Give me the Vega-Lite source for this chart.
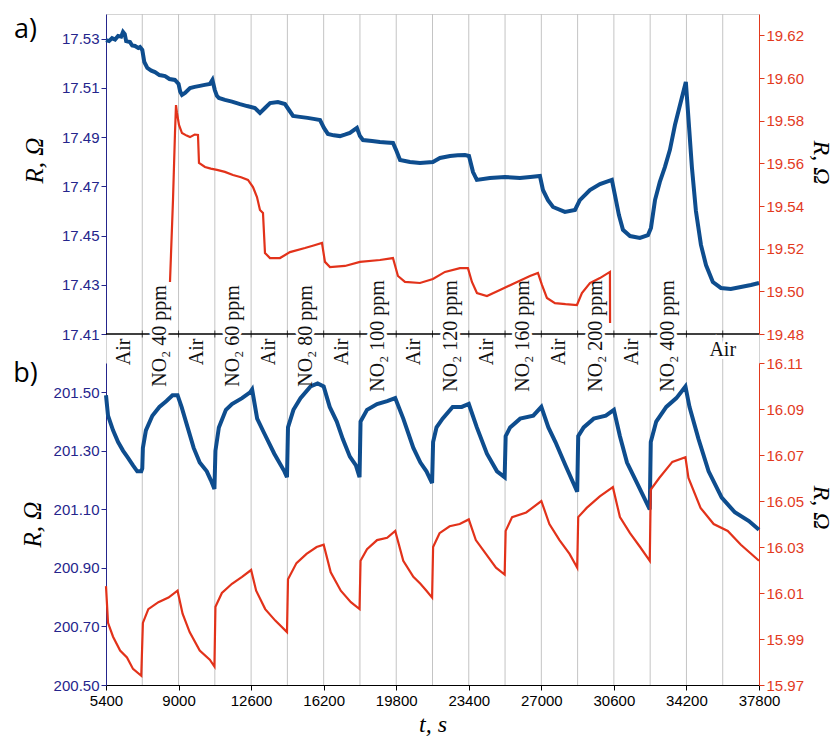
{
"$schema": "https://vega.github.io/schema/vega-lite/v6.json",
"width": 653, "height": 671,
"autosize": {"type": "none"},
"padding": {"left": 106, "top": 14, "right": 80, "bottom": 58},
"config": {"view": {"stroke": "#d4d4d4"}, "axis": {"grid": false}},
"datasets": {
"grid": [{"t":7200},{"t":9000},{"t":10800},{"t":12600},{"t":14400},{"t":16200},{"t":18000},{"t":19800},{"t":21600},{"t":23400},{"t":25200},{"t":27000},{"t":28800},{"t":30600},{"t":32400},{"t":34200},{"t":36000}],
"gas": [{"t":6300,"label":"Air","k":"v"},{"t":8100,"label":"NO₂ 40 ppm","k":"n"},{"t":9900,"label":"Air","k":"v"},{"t":11700,"label":"NO₂ 60 ppm","k":"n"},{"t":13500,"label":"Air","k":"v"},{"t":15300,"label":"NO₂ 80 ppm","k":"n"},{"t":17100,"label":"Air","k":"v"},{"t":18900,"label":"NO₂ 100 ppm","k":"n"},{"t":20700,"label":"Air","k":"v"},{"t":22500,"label":"NO₂ 120 ppm","k":"n"},{"t":24300,"label":"Air","k":"v"},{"t":26100,"label":"NO₂ 160 ppm","k":"n"},{"t":27900,"label":"Air","k":"v"},{"t":29700,"label":"NO₂ 200 ppm","k":"n"},{"t":31500,"label":"Air","k":"v"},{"t":33300,"label":"NO₂ 400 ppm","k":"n"},{"t":36000,"label":"Air","k":"h"}],
"topBlue": [{"t":5400,"v":17.5294},{"t":5550,"v":17.529},{"t":5700,"v":17.5302},{"t":5850,"v":17.5296},{"t":6000,"v":17.5311},{"t":6150,"v":17.5308},{"t":6243,"v":17.5327},{"t":6330,"v":17.5318},{"t":6400,"v":17.529},{"t":6590,"v":17.5286},{"t":6700,"v":17.5272},{"t":6840,"v":17.527},{"t":7000,"v":17.5262},{"t":7087,"v":17.5266},{"t":7200,"v":17.5254},{"t":7300,"v":17.5205},{"t":7450,"v":17.5181},{"t":7650,"v":17.517},{"t":7830,"v":17.5164},{"t":8050,"v":17.5152},{"t":8330,"v":17.5148},{"t":8550,"v":17.5136},{"t":8820,"v":17.5132},{"t":9000,"v":17.5116},{"t":9080,"v":17.5085},{"t":9170,"v":17.5071},{"t":9320,"v":17.5079},{"t":9570,"v":17.5099},{"t":9800,"v":17.5104},{"t":10060,"v":17.5108},{"t":10300,"v":17.5112},{"t":10560,"v":17.5116},{"t":10680,"v":17.5132},{"t":10800,"v":17.5091},{"t":10900,"v":17.5068},{"t":11000,"v":17.5059},{"t":11300,"v":17.5051},{"t":11650,"v":17.5044},{"t":12050,"v":17.5034},{"t":12400,"v":17.5026},{"t":12790,"v":17.5018},{"t":13040,"v":17.4998},{"t":13290,"v":17.5018},{"t":13540,"v":17.5038},{"t":13930,"v":17.5042},{"t":14280,"v":17.5034},{"t":14480,"v":17.501},{"t":14680,"v":17.4986},{"t":15020,"v":17.4982},{"t":15400,"v":17.4978},{"t":15770,"v":17.4973},{"t":16020,"v":17.4969},{"t":16215,"v":17.4937},{"t":16410,"v":17.4913},{"t":16700,"v":17.4907},{"t":17010,"v":17.4904},{"t":17250,"v":17.491},{"t":17500,"v":17.4917},{"t":17850,"v":17.4937},{"t":18000,"v":17.4904},{"t":18150,"v":17.4888},{"t":18600,"v":17.4884},{"t":18990,"v":17.488},{"t":19300,"v":17.4878},{"t":19640,"v":17.4876},{"t":19790,"v":17.4848},{"t":19990,"v":17.4807},{"t":20480,"v":17.4799},{"t":20980,"v":17.4795},{"t":21300,"v":17.4797},{"t":21620,"v":17.4799},{"t":21970,"v":17.4815},{"t":22470,"v":17.4823},{"t":22850,"v":17.4826},{"t":23210,"v":17.4827},{"t":23410,"v":17.4823},{"t":23610,"v":17.4758},{"t":23800,"v":17.4726},{"t":24450,"v":17.4734},{"t":25190,"v":17.4738},{"t":25550,"v":17.4736},{"t":25940,"v":17.4734},{"t":26450,"v":17.4738},{"t":26930,"v":17.4742},{"t":27080,"v":17.4685},{"t":27330,"v":17.4644},{"t":27580,"v":17.4616},{"t":28170,"v":17.4596},{"t":28670,"v":17.4604},{"t":28910,"v":17.4644},{"t":29410,"v":17.4685},{"t":29910,"v":17.4709},{"t":30500,"v":17.4726},{"t":30650,"v":17.4665},{"t":30850,"v":17.4583},{"t":31050,"v":17.4523},{"t":31400,"v":17.4498},{"t":31890,"v":17.449},{"t":32290,"v":17.4502},{"t":32440,"v":17.4531},{"t":32640,"v":17.4644},{"t":32880,"v":17.4718},{"t":33130,"v":17.4778},{"t":33380,"v":17.4848},{"t":33630,"v":17.4949},{"t":33880,"v":17.503},{"t":34170,"v":17.5124},{"t":34270,"v":17.501},{"t":34470,"v":17.4778},{"t":34670,"v":17.46},{"t":34920,"v":17.4462},{"t":35170,"v":17.438},{"t":35510,"v":17.4311},{"t":35910,"v":17.4287},{"t":36400,"v":17.4283},{"t":36900,"v":17.4291},{"t":37400,"v":17.4299},{"t":37800,"v":17.4307}],
"topRed": [{"t":8575,"v":19.5044},{"t":8724,"v":19.5428},{"t":8823,"v":19.5742},{"t":8873,"v":19.5873},{"t":8922,"v":19.5836},{"t":9022,"v":19.578},{"t":9170,"v":19.5742},{"t":9400,"v":19.573},{"t":9567,"v":19.5723},{"t":9800,"v":19.5735},{"t":9964,"v":19.5733},{"t":10014,"v":19.5602},{"t":10311,"v":19.5583},{"t":10600,"v":19.5575},{"t":10907,"v":19.5569},{"t":11300,"v":19.556},{"t":11700,"v":19.5545},{"t":12100,"v":19.5535},{"t":12444,"v":19.5522},{"t":12693,"v":19.5489},{"t":12891,"v":19.5442},{"t":13040,"v":19.5381},{"t":13189,"v":19.5367},{"t":13288,"v":19.518},{"t":13536,"v":19.5156},{"t":14032,"v":19.5156},{"t":14528,"v":19.5184},{"t":15272,"v":19.5203},{"t":15700,"v":19.5215},{"t":16115,"v":19.5227},{"t":16264,"v":19.5138},{"t":16512,"v":19.5114},{"t":17257,"v":19.5119},{"t":18001,"v":19.5138},{"t":18993,"v":19.5147},{"t":19638,"v":19.5156},{"t":19886,"v":19.5072},{"t":20234,"v":19.5044},{"t":20978,"v":19.5039},{"t":21622,"v":19.5058},{"t":22218,"v":19.5091},{"t":22962,"v":19.5109},{"t":23359,"v":19.5109},{"t":23557,"v":19.5044},{"t":23805,"v":19.4992},{"t":24301,"v":19.4978},{"t":24946,"v":19.5006},{"t":25690,"v":19.5039},{"t":26435,"v":19.5072},{"t":26832,"v":19.5086},{"t":27030,"v":19.503},{"t":27278,"v":19.4969},{"t":27675,"v":19.4945},{"t":28200,"v":19.494},{"t":28767,"v":19.4936},{"t":29014,"v":19.4992},{"t":29411,"v":19.5039},{"t":29907,"v":19.5062},{"t":30404,"v":19.5091},{"t":30410,"v":19.4852}],
"botBlue": [{"t":5400,"v":201.49},{"t":5500,"v":201.42},{"t":5750,"v":201.37},{"t":6000,"v":201.33},{"t":6250,"v":201.3},{"t":6450,"v":201.28},{"t":6740,"v":201.25},{"t":6950,"v":201.23},{"t":7150,"v":201.23},{"t":7200,"v":201.24},{"t":7230,"v":201.31},{"t":7380,"v":201.37},{"t":7700,"v":201.42},{"t":8050,"v":201.45},{"t":8400,"v":201.47},{"t":8700,"v":201.49},{"t":8950,"v":201.49},{"t":9150,"v":201.45},{"t":9450,"v":201.38},{"t":9750,"v":201.31},{"t":10050,"v":201.26},{"t":10400,"v":201.23},{"t":10600,"v":201.2},{"t":10780,"v":201.17},{"t":10830,"v":201.3},{"t":11000,"v":201.38},{"t":11350,"v":201.44},{"t":11650,"v":201.46},{"t":12150,"v":201.48},{"t":12550,"v":201.5},{"t":12650,"v":201.51},{"t":12900,"v":201.41},{"t":13250,"v":201.36},{"t":13750,"v":201.29},{"t":14250,"v":201.23},{"t":14380,"v":201.21},{"t":14430,"v":201.38},{"t":14700,"v":201.44},{"t":15050,"v":201.48},{"t":15550,"v":201.52},{"t":15900,"v":201.53},{"t":16200,"v":201.52},{"t":16500,"v":201.45},{"t":16850,"v":201.4},{"t":17150,"v":201.34},{"t":17500,"v":201.28},{"t":17800,"v":201.25},{"t":17980,"v":201.21},{"t":18030,"v":201.4},{"t":18350,"v":201.44},{"t":18850,"v":201.46},{"t":19350,"v":201.47},{"t":19750,"v":201.48},{"t":20150,"v":201.41},{"t":20650,"v":201.31},{"t":21000,"v":201.26},{"t":21300,"v":201.23},{"t":21580,"v":201.19},{"t":21630,"v":201.33},{"t":21800,"v":201.38},{"t":22100,"v":201.41},{"t":22600,"v":201.45},{"t":23050,"v":201.45},{"t":23400,"v":201.46},{"t":23800,"v":201.38},{"t":24300,"v":201.29},{"t":24800,"v":201.23},{"t":25180,"v":201.21},{"t":25230,"v":201.35},{"t":25450,"v":201.38},{"t":25950,"v":201.41},{"t":26600,"v":201.42},{"t":27000,"v":201.45},{"t":27350,"v":201.38},{"t":27700,"v":201.33},{"t":28200,"v":201.25},{"t":28780,"v":201.16},{"t":28830,"v":201.35},{"t":29100,"v":201.38},{"t":29600,"v":201.41},{"t":30200,"v":201.42},{"t":30600,"v":201.44},{"t":30900,"v":201.35},{"t":31250,"v":201.26},{"t":31750,"v":201.19},{"t":32380,"v":201.1},{"t":32430,"v":201.33},{"t":32700,"v":201.4},{"t":33200,"v":201.45},{"t":33700,"v":201.48},{"t":34150,"v":201.52},{"t":34350,"v":201.45},{"t":34800,"v":201.34},{"t":35300,"v":201.23},{"t":35950,"v":201.14},{"t":36600,"v":201.09},{"t":37300,"v":201.06},{"t":37800,"v":201.03}],
"botRed": [{"t":5400,"v":16.013},{"t":5500,"v":15.997},{"t":5750,"v":15.991},{"t":6100,"v":15.985},{"t":6440,"v":15.982},{"t":6740,"v":15.977},{"t":7150,"v":15.974},{"t":7230,"v":15.997},{"t":7500,"v":16.003},{"t":8000,"v":16.006},{"t":8500,"v":16.008},{"t":8950,"v":16.011},{"t":9200,"v":16.001},{"t":9550,"v":15.993},{"t":10050,"v":15.985},{"t":10550,"v":15.981},{"t":10780,"v":15.978},{"t":10830,"v":16.004},{"t":11150,"v":16.01},{"t":11650,"v":16.014},{"t":12150,"v":16.017},{"t":12600,"v":16.02},{"t":12850,"v":16.011},{"t":13300,"v":16.003},{"t":13800,"v":15.998},{"t":14380,"v":15.993},{"t":14430,"v":16.016},{"t":14850,"v":16.023},{"t":15350,"v":16.027},{"t":15850,"v":16.03},{"t":16200,"v":16.031},{"t":16550,"v":16.019},{"t":17050,"v":16.011},{"t":17550,"v":16.006},{"t":17980,"v":16.003},{"t":18030,"v":16.024},{"t":18350,"v":16.029},{"t":18850,"v":16.033},{"t":19350,"v":16.034},{"t":19750,"v":16.037},{"t":20150,"v":16.024},{"t":20650,"v":16.017},{"t":21000,"v":16.014},{"t":21300,"v":16.011},{"t":21580,"v":16.008},{"t":21630,"v":16.03},{"t":21950,"v":16.036},{"t":22450,"v":16.039},{"t":22950,"v":16.04},{"t":23400,"v":16.042},{"t":23750,"v":16.033},{"t":24250,"v":16.027},{"t":24750,"v":16.021},{"t":25180,"v":16.018},{"t":25230,"v":16.037},{"t":25550,"v":16.043},{"t":26250,"v":16.045},{"t":27000,"v":16.05},{"t":27400,"v":16.04},{"t":27900,"v":16.033},{"t":28400,"v":16.027},{"t":28780,"v":16.021},{"t":28830,"v":16.043},{"t":29250,"v":16.047},{"t":29900,"v":16.052},{"t":30550,"v":16.056},{"t":30900,"v":16.043},{"t":31400,"v":16.036},{"t":31900,"v":16.03},{"t":32380,"v":16.024},{"t":32430,"v":16.055},{"t":32850,"v":16.06},{"t":33500,"v":16.067},{"t":34150,"v":16.069},{"t":34300,"v":16.06},{"t":34900,"v":16.047},{"t":35550,"v":16.04},{"t":36250,"v":16.037},{"t":36900,"v":16.031},{"t":37800,"v":16.024}]
},
"layer": [
{"data": {"name": "grid"}, "mark": {"type": "rule", "color": "#c4c4c4", "strokeWidth": 1},
 "encoding": {"x": {"field": "t", "type": "quantitative", "scale": {"domain": [5400, 37800], "nice": false, "zero": false},
  "axis": {"values": [5400,9000,12600,16200,19800,23400,27000,30600,34200,37800], "format": "d", "title": "t, s", "titleFont": "Liberation Serif", "titleFontStyle": "italic", "titleFontWeight": "normal", "titleFontSize": 24, "titleColor": "black", "titlePadding": 4, "labelFont": "Liberation Sans", "labelFontSize": 15, "labelColor": "black", "labelPadding": 3, "labelFlush": false, "tickSize": 5, "tickColor": "black", "domainColor": "black", "grid": false}}}},
{"data": {"values": [{}]}, "mark": {"type": "rule", "color": "black", "strokeWidth": 1.3},
 "encoding": {"y": {"datum": 17.41, "scale": {"domain": [17.41, 17.54], "range": [320, 0], "nice": false, "zero": false}, "axis": null}}},
{"data": {"name": "grid"}, "mark": {"type": "tick", "orient": "vertical", "color": "black", "size": 7, "thickness": 1},
 "encoding": {"x": {"field": "t", "type": "quantitative", "scale": {"domain": [5400, 37800], "nice": false, "zero": false}},
  "y": {"datum": 17.41, "scale": {"domain": [17.41, 17.54], "range": [320, 0], "nice": false, "zero": false}, "axis": null}}},
{"data": {"name": "gas"}, "transform": [{"filter": "datum.k == 'n'"}], "mark": {"type": "text", "angle": 270, "align": "center", "baseline": "middle", "font": "Liberation Serif", "fontSize": 20, "stroke": "white", "strokeWidth": 6, "fill": "white"},
 "encoding": {"x": {"field": "t", "type": "quantitative", "scale": {"domain": [5400, 37800], "nice": false, "zero": false}},
  "y": {"datum": 17.4092, "scale": {"domain": [17.41, 17.54], "range": [320, 0], "nice": false, "zero": false}, "axis": null}, "text": {"field": "label"}}},
{"data": {"name": "gas"}, "transform": [{"filter": "datum.k == 'h'"}], "mark": {"type": "text", "align": "center", "baseline": "middle", "font": "Liberation Serif", "fontSize": 20, "stroke": "white", "strokeWidth": 6, "fill": "white"},
 "encoding": {"x": {"field": "t", "type": "quantitative", "scale": {"domain": [5400, 37800], "nice": false, "zero": false}},
  "y": {"datum": 17.4035, "scale": {"domain": [17.41, 17.54], "range": [320, 0], "nice": false, "zero": false}, "axis": null}, "text": {"field": "label"}}},
{"data": {"name": "topBlue"}, "mark": {"type": "line", "color": "#0e4d8e", "strokeWidth": 4},
 "encoding": {"x": {"field": "t", "type": "quantitative", "scale": {"domain": [5400, 37800], "nice": false, "zero": false}},
  "y": {"field": "v", "type": "quantitative", "scale": {"domain": [17.41, 17.54], "range": [320, 0], "nice": false, "zero": false},
   "axis": {"orient": "left", "values": [17.41,17.43,17.45,17.47,17.49,17.51,17.53], "format": ".2f", "title": "R, Ω", "titleFont": "Liberation Serif", "titleFontStyle": "italic", "titleFontWeight": "normal", "titleFontSize": 25, "titleColor": "black", "titlePadding": 14, "titleY": 146, "labelFont": "Liberation Sans", "labelFontSize": 15, "labelColor": "#25258c", "labelPadding": 2, "tickSize": 5, "tickColor": "#25258c", "domainColor": "#25258c", "grid": false}}}},
{"data": {"name": "topRed"}, "mark": {"type": "line", "color": "#e2321a", "strokeWidth": 2.2},
 "encoding": {"x": {"field": "t", "type": "quantitative", "scale": {"domain": [5400, 37800], "nice": false, "zero": false}},
  "y": {"field": "v", "type": "quantitative", "scale": {"domain": [19.48, 19.63], "range": [320, 0], "nice": false, "zero": false},
   "axis": {"orient": "right", "values": [19.48,19.5,19.52,19.54,19.56,19.58,19.6,19.62], "format": ".2f", "title": "R, Ω", "titleFont": "Liberation Serif", "titleFontStyle": "italic", "titleFontWeight": "normal", "titleFontSize": 24, "titleColor": "black", "titlePadding": 5, "titleY": 148, "labelFont": "Liberation Sans", "labelFontSize": 15, "labelColor": "#e23a1e", "labelPadding": 2, "tickSize": 5, "tickColor": "#e23a1e", "domainColor": "#e23a1e", "grid": false}}}},
{"data": {"name": "botBlue"}, "mark": {"type": "line", "color": "#0e4d8e", "strokeWidth": 4},
 "encoding": {"x": {"field": "t", "type": "quantitative", "scale": {"domain": [5400, 37800], "nice": false, "zero": false}},
  "y": {"field": "v", "type": "quantitative", "scale": {"domain": [200.5, 201.6], "range": [671, 349], "nice": false, "zero": false},
   "axis": {"orient": "left", "values": [200.5,200.7,200.9,201.1,201.3,201.5], "format": ".2f", "title": "R, Ω", "titleFont": "Liberation Serif", "titleFontStyle": "italic", "titleFontWeight": "normal", "titleFontSize": 25, "titleColor": "black", "titlePadding": 8, "labelFont": "Liberation Sans", "labelFontSize": 15, "labelColor": "#25258c", "labelPadding": 2, "tickSize": 5, "tickColor": "#25258c", "domainColor": "#25258c", "grid": false}}}},
{"data": {"name": "botRed"}, "mark": {"type": "line", "color": "#e2321a", "strokeWidth": 2.2},
 "encoding": {"x": {"field": "t", "type": "quantitative", "scale": {"domain": [5400, 37800], "nice": false, "zero": false}},
  "y": {"field": "v", "type": "quantitative", "scale": {"domain": [15.97, 16.11], "range": [671, 349], "nice": false, "zero": false},
   "axis": {"orient": "right", "values": [15.97,15.99,16.01,16.03,16.05,16.07,16.09,16.11], "format": ".2f", "title": "R, Ω", "titleFont": "Liberation Serif", "titleFontStyle": "italic", "titleFontWeight": "normal", "titleFontSize": 24, "titleColor": "black", "titlePadding": 5, "titleY": 493, "labelFont": "Liberation Sans", "labelFontSize": 15, "labelColor": "#e23a1e", "labelPadding": 2, "tickSize": 5, "tickColor": "#e23a1e", "domainColor": "#e23a1e", "grid": false}}}},
{"data": {"name": "gas"}, "transform": [{"filter": "datum.k == 'n'"}], "mark": {"type": "text", "angle": 270, "align": "center", "baseline": "middle", "font": "Liberation Serif", "fontSize": 20, "color": "#111111"},
 "encoding": {"x": {"field": "t", "type": "quantitative", "scale": {"domain": [5400, 37800], "nice": false, "zero": false}},
  "y": {"datum": 17.4092, "scale": {"domain": [17.41, 17.54], "range": [320, 0], "nice": false, "zero": false}, "axis": null}, "text": {"field": "label"}}},
{"data": {"name": "gas"}, "transform": [{"filter": "datum.k == 'v'"}], "mark": {"type": "text", "angle": 270, "align": "center", "baseline": "middle", "font": "Liberation Serif", "fontSize": 20, "color": "#111111"},
 "encoding": {"x": {"field": "t", "type": "quantitative", "scale": {"domain": [5400, 37800], "nice": false, "zero": false}},
  "y": {"datum": 17.4027, "scale": {"domain": [17.41, 17.54], "range": [320, 0], "nice": false, "zero": false}, "axis": null}, "text": {"field": "label"}}},
{"data": {"name": "gas"}, "transform": [{"filter": "datum.k == 'h'"}], "mark": {"type": "text", "align": "center", "baseline": "middle", "font": "Liberation Serif", "fontSize": 20, "color": "#111111"},
 "encoding": {"x": {"field": "t", "type": "quantitative", "scale": {"domain": [5400, 37800], "nice": false, "zero": false}},
  "y": {"datum": 17.4035, "scale": {"domain": [17.41, 17.54], "range": [320, 0], "nice": false, "zero": false}, "axis": null}, "text": {"field": "label"}}},
{"data": {"values": [{"p": "a)"}]}, "mark": {"type": "text", "align": "center", "baseline": "middle", "font": "Open Sans", "fontSize": 27, "color": "black"},
 "encoding": {"x": {"datum": 1400, "type": "quantitative", "scale": {"domain": [5400, 37800], "nice": false, "zero": false}},
  "y": {"datum": 17.5335, "scale": {"domain": [17.41, 17.54], "range": [320, 0], "nice": false, "zero": false}, "axis": null}, "text": {"field": "p"}}},
{"data": {"values": [{"p": "b)"}]}, "mark": {"type": "text", "align": "center", "baseline": "middle", "font": "Open Sans", "fontSize": 27, "color": "black"},
 "encoding": {"x": {"datum": 1400, "type": "quantitative", "scale": {"domain": [5400, 37800], "nice": false, "zero": false}},
  "y": {"datum": 201.562, "scale": {"domain": [200.5, 201.6], "range": [671, 349], "nice": false, "zero": false}, "axis": null}, "text": {"field": "p"}}}
],
"resolve": {"scale": {"y": "independent"}, "axis": {"y": "independent"}}
}
